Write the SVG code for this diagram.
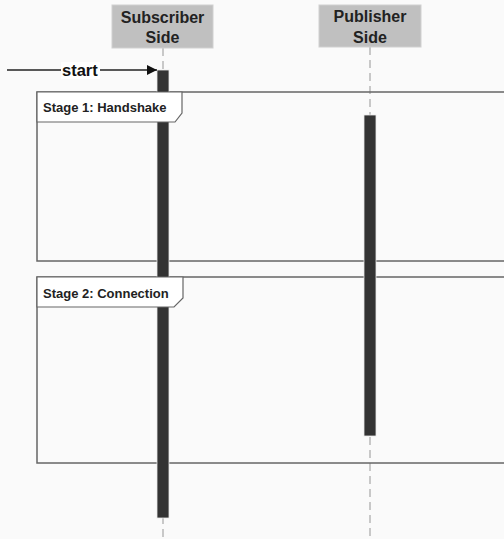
<svg xmlns="http://www.w3.org/2000/svg" width="504" height="539" viewBox="0 0 504 539">
  <defs>
    <style>
      .bg { fill: #fafafa; }
      .head { fill: #c0c0c0; stroke: #d0d0d0; stroke-width: 1; }
      .head-text { font-family: "Liberation Sans", Arial, sans-serif; font-weight: bold; font-size: 16px; fill: #222; text-anchor: middle; }
      .life { stroke: #b8b8b8; stroke-width: 1.5; stroke-dasharray: 8 5; fill: none; }
      .act { fill: #333333; stroke: #e8e8e8; stroke-width: 0.8; }
      .frame { fill: none; stroke: #666666; stroke-width: 1.5; }
      .tab { fill: #ffffff; stroke: #666666; stroke-width: 1.2; }
      .tab-text { font-family: "Liberation Sans", Arial, sans-serif; font-weight: bold; font-size: 13px; fill: #222; }
      .msg { stroke: #222; stroke-width: 1.3; fill: none; }
      .msg-text { font-family: "Liberation Sans", Arial, sans-serif; font-weight: bold; font-size: 16.5px; fill: #111; }
    </style>
    <marker id="arrow" viewBox="0 0 10 10" refX="10" refY="5" markerWidth="10" markerHeight="10" markerUnits="userSpaceOnUse" orient="auto">
      <path d="M0,0 L10,5 L0,10 z" fill="#111"/>
    </marker>
  </defs>

  <rect class="bg" x="0" y="0" width="504" height="539"/>

  <!-- lifelines -->
  <g id="lifelines">
    <line class="life" x1="163" y1="48" x2="163" y2="539"/>
    <line class="life" x1="370" y1="47" x2="370" y2="539"/>
  </g>

  <!-- combined fragment boxes (drawn under the activation bars) -->
  <g id="stage1">
    <rect class="frame" x="37" y="92" width="480" height="169"/>
  </g>
  <g id="stage2">
    <rect class="frame" x="37" y="277" width="480" height="186"/>
  </g>

  <!-- participants -->
  <g id="subscriber">
    <rect class="head" x="112" y="5" width="101" height="43"/>
    <text class="head-text" x="162.5" y="23">Subscriber</text>
    <text class="head-text" x="162.5" y="43">Side</text>
    <rect class="act" x="157" y="70" width="12" height="448"/>
  </g>
  <g id="publisher">
    <rect class="head" x="319" y="5" width="102" height="42"/>
    <text class="head-text" x="370" y="22">Publisher</text>
    <text class="head-text" x="370" y="43">Side</text>
    <rect class="act" x="364" y="115" width="12" height="321"/>
  </g>

  <!-- fragment name tabs (drawn over the activation bars) -->
  <g id="stage1-label">
    <path class="tab" d="M37,92 H182 V113 L175,122 H37 Z"/>
    <text class="tab-text" x="43" y="112">Stage 1: Handshake</text>
  </g>
  <g id="stage2-label">
    <path class="tab" d="M37,277 H183 V298 L174,307 H37 Z"/>
    <text class="tab-text" x="43" y="298">Stage 2: Connection</text>
  </g>

  <!-- connectors -->
  <g id="connectors">
    <line class="msg" x1="7" y1="70" x2="157" y2="70" marker-end="url(#arrow)"/>
    <rect x="61" y="62" width="39" height="17" fill="#ffffff"/>
    <text class="msg-text" x="62" y="76">start</text>
  </g>
</svg>
